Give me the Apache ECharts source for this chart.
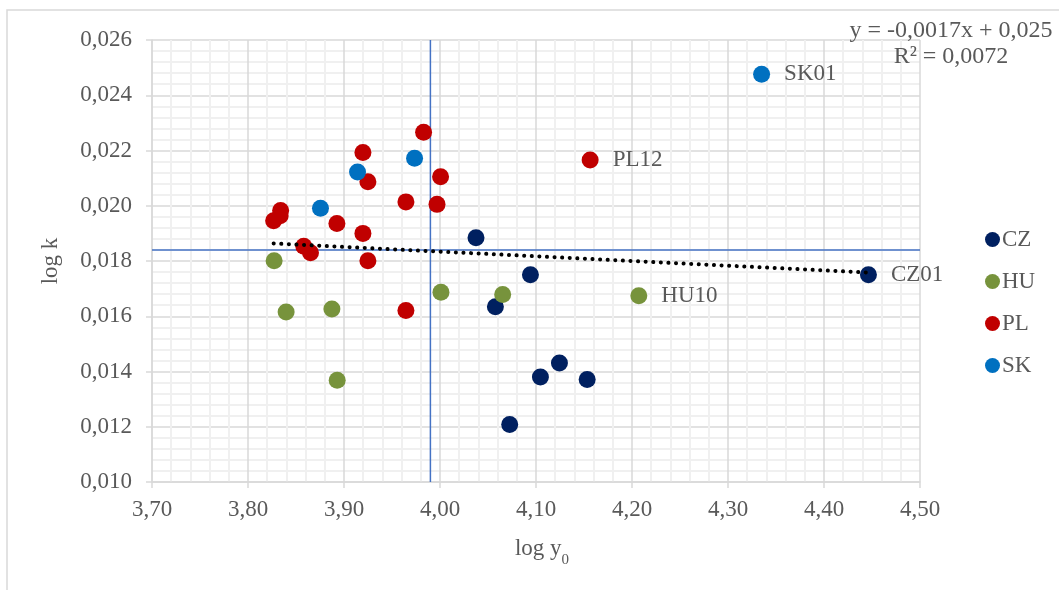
<!DOCTYPE html>
<html>
<head>
<meta charset="utf-8">
<script src="https://cdn.jsdelivr.net/npm/echarts@6/dist/echarts.min.js"></script>
<style>
  html, body { margin: 0; padding: 0; background: #ffffff; }
  #chart { width: 1059px; height: 590px; }
</style>
</head>
<body>
<div id="chart"></div>
<script>
// log y0 (x) and log k (y) per region group; names mark the labelled regions
const czLogY0 = [4.0375, 4.0942, 4.0577, 4.1046, 4.1244, 4.1533, 4.0726, 4.4463];
const czLogK  = [0.01884, 0.01750, 0.01634, 0.01380, 0.01431, 0.01371, 0.01208, 0.01750];
const czNames = ['', '', '', '', '', '', '', 'CZ01'];

const huLogY0 = [3.8272, 4.0010, 4.0653, 3.8397, 3.8874, 3.8929, 4.2071];
const huLogK  = [0.01801, 0.01687, 0.01679, 0.01615, 0.01626, 0.01368, 0.01674];
const huNames = ['', '', '', '', '', '', 'HU10'];

const plLogY0 = [3.9829, 3.9197, 3.9249, 4.0006, 3.9645, 3.9969, 3.8340, 3.8335, 3.8267,
                 3.8926, 3.9197, 3.8581, 3.8651, 3.9249, 3.9645, 4.1564];
const plLogK  = [0.02266, 0.02193, 0.02087, 0.02105, 0.02014, 0.02005, 0.01983, 0.01964, 0.01946,
                 0.01936, 0.01900, 0.01853, 0.01830, 0.01801, 0.01621, 0.02166];
const plNames = ['', '', '', '', '', '', '', '', '', '', '', '', '', '', '', 'PL12'];

const skLogY0 = [3.9735, 3.9141, 3.8755, 4.3350];
const skLogK  = [0.02172, 0.02122, 0.01991, 0.02476];
const skNames = ['', '', '', 'SK01'];

// average reference lines
const meanLogY0 = 3.990;
const meanLogK = 0.0184;

// linear trend: y = -0,0017x + 0,025
const trendSlope = -0.0017;
const trendIntercept = 0.02514;
const trendText = ['y = -0,0017x + 0,025', 'R² = 0,0072'];

const xTicks = { min: 3.7, max: 4.5, interval: 0.1 };
const yTicks = { min: 0.010, max: 0.026, interval: 0.002 };

const FONT = '"Liberation Serif", "Times New Roman", serif';
const TXT = '#595959';

function points(xs, ys, names) {
  return xs.map((x, i) => {
    const item = { value: [x, ys[i]] };
    if (names[i]) {
      item.name = names[i];
      item.label = { show: true };
    }
    return item;
  });
}

const allX = [].concat(czLogY0, huLogY0, plLogY0, skLogY0);
const xLo = Math.min.apply(null, allX);
const xHi = Math.max.apply(null, allX);
const trendData = [[xLo, trendSlope * xLo + trendIntercept], [xHi, trendSlope * xHi + trendIntercept]];

const pointLabel = {
  show: false,
  position: 'right',
  distance: 14,
  formatter: '{b}',
  color: TXT,
  fontFamily: FONT,
  fontSize: 23
};

function group(name, color, xs, ys, names) {
  return {
    name: name,
    type: 'scatter',
    symbol: 'circle',
    symbolSize: 17,
    itemStyle: { color: color, opacity: 1 },
    label: pointLabel,
    emphasis: { disabled: true },
    z: 3,
    data: points(xs, ys, names)
  };
}

function refLine(data) {
  return {
    type: 'line',
    data: data,
    symbol: 'none',
    silent: true,
    z: 1,
    lineStyle: { color: '#4472c4', width: 1.5 }
  };
}

const chart = echarts.init(document.getElementById('chart'), null, { renderer: 'canvas' });

chart.setOption({
  backgroundColor: '#ffffff',
  animation: false,
  textStyle: { fontFamily: FONT },
  grid: { left: 152, right: 139, top: 40, bottom: 108 },
  legend: {
    orient: 'vertical',
    left: 980,
    top: 223,
    icon: 'circle',
    itemWidth: 15,
    itemHeight: 15,
    itemGap: 19,
    data: ['CZ', 'HU', 'PL', 'SK'],
    textStyle: { color: TXT, fontFamily: FONT, fontSize: 23, lineHeight: 23, padding: [0, 0, 0, -3] }
  },
  xAxis: {
    type: 'value',
    min: xTicks.min,
    max: xTicks.max,
    interval: xTicks.interval,
    name: '{a|log y}{s|0}',
    nameLocation: 'middle',
    nameGap: 52,
    nameTextStyle: {
      padding: [0, 0, 0, 12],
      rich: {
        a: { fontFamily: FONT, fontSize: 23, color: TXT, lineHeight: 30, verticalAlign: 'middle' },
        s: { fontFamily: FONT, fontSize: 15, color: TXT, lineHeight: 30, verticalAlign: 'bottom', padding: [0, 0, -4, 0] }
      }
    },
    axisLine: { lineStyle: { color: '#d9d9d9', width: 1.5 } },
    axisTick: { show: true, length: 6, lineStyle: { color: '#d9d9d9', width: 1.5 } },
    axisLabel: {
      margin: 16,
      color: TXT,
      fontFamily: FONT,
      fontSize: 23,
      formatter: v => v.toFixed(2).replace('.', ',')
    },
    splitLine: { show: true, lineStyle: { color: '#d9d9d9', width: 1.5 } },
    minorTick: { show: false, splitNumber: 5 },
    minorSplitLine: { show: true, lineStyle: { color: '#f0f0f0', width: 2 } }
  },
  yAxis: {
    type: 'value',
    min: yTicks.min,
    max: yTicks.max,
    interval: yTicks.interval,
    name: 'log k',
    nameLocation: 'middle',
    nameGap: 90,
    nameRotate: 90,
    nameTextStyle: { color: TXT, fontFamily: FONT, fontSize: 23 },
    axisLine: { show: true, lineStyle: { color: '#d9d9d9', width: 1.5 } },
    axisTick: { show: true, length: 6, lineStyle: { color: '#d9d9d9', width: 1.5 } },
    axisLabel: {
      margin: 20,
      color: TXT,
      fontFamily: FONT,
      fontSize: 23,
      formatter: v => v.toFixed(3).replace('.', ',')
    },
    splitLine: { show: true, lineStyle: { color: '#d9d9d9', width: 1.5 } },
    minorTick: { show: false, splitNumber: 5 },
    minorSplitLine: { show: true, lineStyle: { color: '#f0f0f0', width: 2 } }
  },
  graphic: [
    {
      type: 'rect',
      silent: true,
      z: -10,
      shape: { x: 7, y: 10, width: 1200, height: 700 },
      style: { fill: 'none', stroke: '#d9d9d9', lineWidth: 1.5 }
    },
    {
      type: 'text',
      silent: true,
      z: 100,
      x: 951,
      y: 31,
      style: { text: trendText[0], fill: TXT, font: '24px ' + FONT, textAlign: 'center', textVerticalAlign: 'middle' }
    },
    {
      type: 'text',
      silent: true,
      z: 100,
      x: 951,
      y: 57,
      style: { text: trendText[1], fill: TXT, font: '24px ' + FONT, textAlign: 'center', textVerticalAlign: 'middle' }
    }
  ],
  series: [
    refLine([[meanLogY0, yTicks.min], [meanLogY0, yTicks.max]]),
    refLine([[xTicks.min, meanLogK], [xTicks.max, meanLogK]]),
    group('CZ', '#002060', czLogY0, czLogK, czNames),
    group('HU', '#77933c', huLogY0, huLogK, huNames),
    group('PL', '#c00000', plLogY0, plLogK, plNames),
    group('SK', '#0070c0', skLogY0, skLogK, skNames),
    {
      name: 'trend',
      type: 'line',
      data: trendData,
      symbol: 'none',
      silent: true,
      z: 5,
      lineStyle: { color: '#000000', width: 4, type: [0.1, 7.5], cap: 'round' }
    }
  ]
});
</script>
</body>
</html>
